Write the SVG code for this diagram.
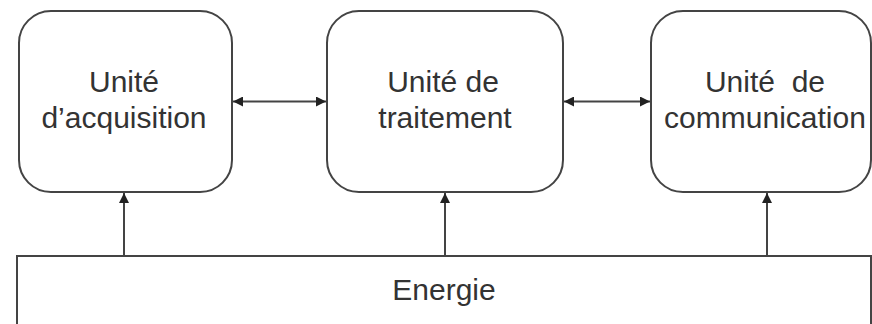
<svg xmlns="http://www.w3.org/2000/svg" width="872" height="324" viewBox="0 0 872 324">
<style>
.box{fill:#fff;stroke:#444;stroke-width:2}
.lbl{font-family:"Liberation Sans",Arial,sans-serif;font-size:30px;fill:#333;text-anchor:middle;white-space:pre}
.con{stroke:#444;stroke-width:2;fill:none}
</style>
<defs>
<marker id="ah" viewBox="0 0 10 10" refX="10" refY="5" markerWidth="11" markerHeight="10" markerUnits="userSpaceOnUse" orient="auto-start-reverse">
<path d="M0,0 L10,5 L0,10 Z" fill="#222"/>
</marker>
</defs>
<rect width="872" height="324" fill="#fff"/>
<g id="energie">
<rect class="box" x="17" y="256" width="854" height="80"/>
<text class="lbl" x="444" y="300">Energie</text>
</g>
<g id="acquisition">
<rect class="box" x="19" y="11" width="213" height="181" rx="32" ry="32"/>
<text class="lbl" x="124" y="92">Unité</text>
<text class="lbl" x="124" y="128">d’acquisition</text>
</g>
<g id="traitement">
<rect class="box" x="327" y="11" width="236" height="181" rx="32" ry="32"/>
<text class="lbl" x="443" y="92">Unité de</text>
<text class="lbl" x="445" y="128">traitement</text>
</g>
<g id="communication">
<rect class="box" x="651" y="11" width="220" height="181" rx="32" ry="32"/>
<text class="lbl" x="765" y="92">Unité  de</text>
<text class="lbl" x="765" y="128">communication</text>
</g>
<g id="connectors">
<line class="con" x1="233" y1="101.5" x2="326" y2="101.5" marker-start="url(#ah)" marker-end="url(#ah)"/>
<line class="con" x1="564" y1="101.5" x2="650" y2="101.5" marker-start="url(#ah)" marker-end="url(#ah)"/>
<line class="con" x1="124" y1="256" x2="124" y2="193" marker-end="url(#ah)"/>
<line class="con" x1="445" y1="256" x2="445" y2="193" marker-end="url(#ah)"/>
<line class="con" x1="767" y1="256" x2="767" y2="193" marker-end="url(#ah)"/>
</g>
</svg>
